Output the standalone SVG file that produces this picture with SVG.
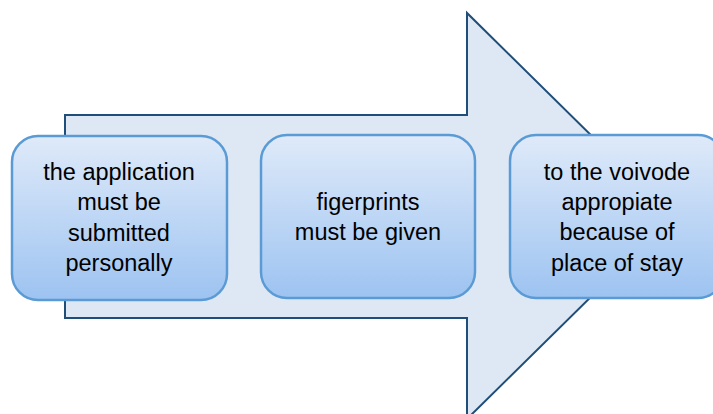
<svg xmlns="http://www.w3.org/2000/svg" width="713" height="414" viewBox="0 0 713 414">
<defs>
<linearGradient id="g" x1="0" y1="0" x2="0" y2="1">
<stop offset="0" stop-color="#dfeaf9"/>
<stop offset="1" stop-color="#9dc3f1"/>
</linearGradient>
<style>
.box{fill:url(#g);stroke:#5b9bd5;stroke-width:2.5}
.t{font-family:"Liberation Sans",Arial,sans-serif;font-size:23.5px;fill:#000;text-anchor:middle}
</style>
</defs>
<g id="arrow">
<path d="M65,115 H467 V13 L673,216 L467,419 V318 H65 Z" fill="#dee8f4" stroke="#1f4e79" stroke-width="2"/>
</g>
<g id="connectors"></g>
<g id="n1">
<rect class="box" x="12" y="136" width="215" height="164" rx="26"/>
<text class="t" x="119" y="180">the application</text>
<text class="t" x="119" y="210">must be</text>
<text class="t" x="119" y="241">submitted</text>
<text class="t" x="119" y="271">personally</text>
</g>
<g id="n2">
<rect class="box" x="261" y="135" width="214" height="163" rx="26"/>
<text class="t" x="368" y="210">figerprints</text>
<text class="t" x="368" y="240">must be given</text>
</g>
<g id="n3">
<rect class="box" x="510" y="135" width="214" height="163" rx="26"/>
<text class="t" x="617" y="180">to the voivode</text>
<text class="t" x="617" y="210">appropiate</text>
<text class="t" x="617" y="240">because of</text>
<text class="t" x="617" y="271">place of stay</text>
</g>
</svg>
